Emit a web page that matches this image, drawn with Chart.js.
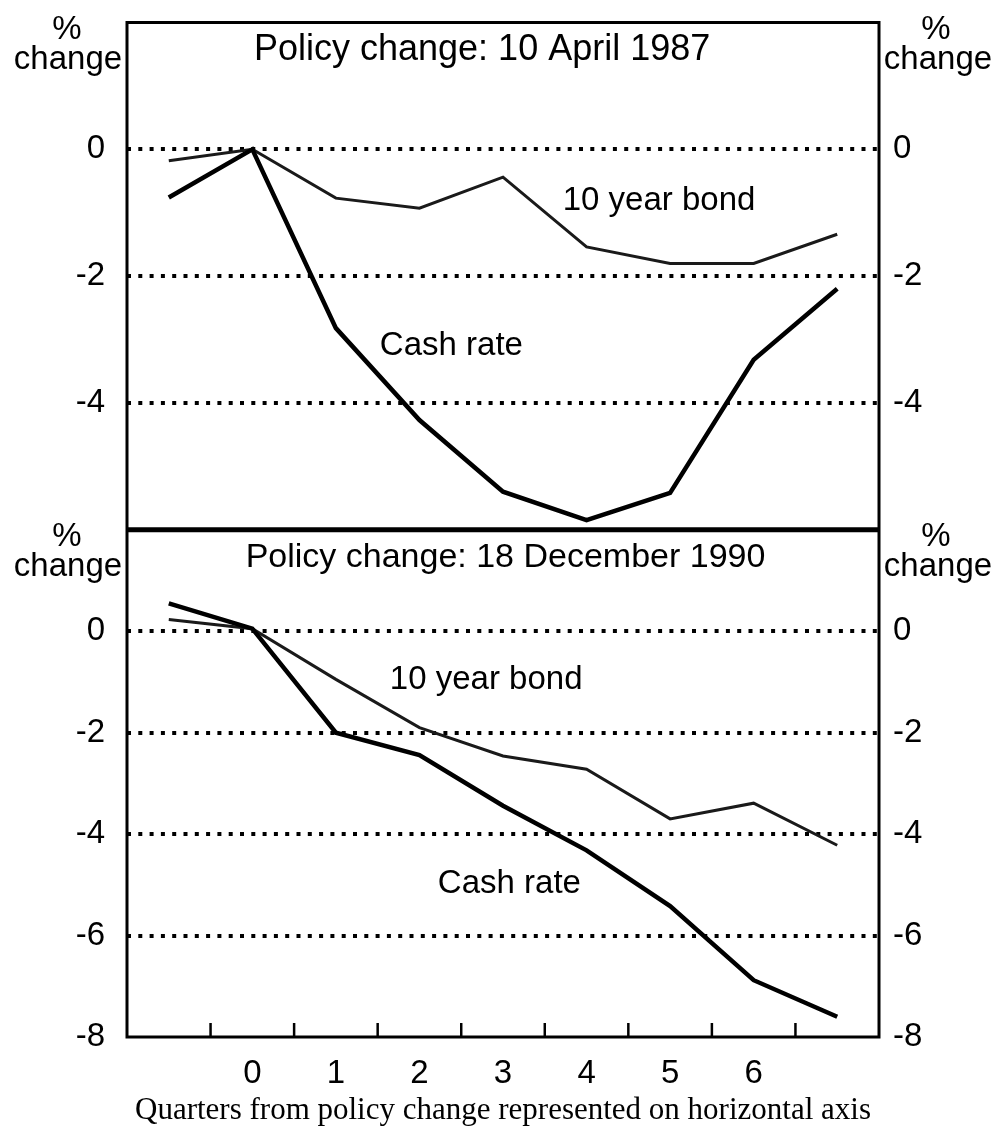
<!DOCTYPE html>
<html>
<head>
<meta charset="utf-8">
<title>Policy change: cash rate and 10 year bond</title>
<script src="https://cdn.jsdelivr.net/npm/chart.js@4.4.1/dist/chart.umd.min.js"></script>
<style>
    html, body { margin: 0; padding: 0; background: #fff; }
    #wrap { width: 998px; height: 1129px; }
</style>
</head>
<body>
<div id="wrap"><canvas id="policyChart" width="998" height="1129"></canvas></div>
<script>
// Quarters from policy change (first and last are not labelled)
const quarters = ['-1', '0', '1', '2', '3', '4', '5', '6', '7'];
const quarterLabels = ['', '0', '1', '2', '3', '4', '5', '6', ''];

// Policy change: 10 April 1987 (% change)
const cash1987 = [-0.76, 0, -2.82, -4.27, -5.4, -5.85, -5.42, -3.32, -2.2];
const bond1987 = [-0.18, 0, -0.77, -0.93, -0.44, -1.54, -1.8, -1.8, -1.34];

// Policy change: 18 December 1990 (% change)
const cash1990 = [0.55, 0.05, -2.0, -2.44, -3.44, -4.32, -5.42, -6.88, -7.6];
const bond1990 = [0.23, 0.05, -0.95, -1.9, -2.46, -2.72, -3.7, -3.39, -4.22];

// Tick labels of each panel
const topTicks = [0, -2, -4];
const bottomTicks = [0, -2, -4, -6, -8];

const SANS = "'Liberation Sans', Arial, Helvetica, sans-serif";
const SERIF = "'Liberation Serif', 'Times New Roman', serif";

// Text written inside the panels (x is on the quarter scale)
const panelTitles = [
    { axis: 'yTop', text: 'Policy change: 10 April 1987', x: 3.75, size: 36 },
    { axis: 'yBottom', text: 'Policy change: 18 December 1990', x: 4.03, size: 34 }
];
const seriesNotes = [
    { axis: 'yTop', text: '10 year bond', x: 4.715, y: -0.96 },
    { axis: 'yTop', text: 'Cash rate', x: 2.526, y: -3.24 },
    { axis: 'yBottom', text: '10 year bond', x: 2.646, y: -1.14 },
    { axis: 'yBottom', text: 'Cash rate', x: 3.22, y: -5.17 }
];

// Build one y axis of a panel
function yAxis(position, min, max, values, withGrid) {
    return {
        type: 'linear',
        position: position,
        stack: position,
        stackWeight: 1,
        min: min,
        max: max,
        afterBuildTicks: scale => {
            scale.ticks = values.map(v => ({ value: v }));
        },
        afterFit: scale => {
            scale.width = position === 'left' ? 127 : 119;
            scale.paddingTop = 0;
            scale.paddingBottom = 0;
        },
        ticks: {
            color: '#000',
            font: { family: SANS, size: 33 },
            padding: position === 'left' ? 22 : 14,
            callback: v => String(v)
        },
        grid: {
            display: withGrid,
            drawTicks: false,
            // the lowest tick sits on the frame, so no dotted line there
            color: c => (c.tick && c.tick.value === min ? 'rgba(0,0,0,0)' : '#000'),
            lineWidth: 4
        },
        border: { display: false, dash: [4, 7.3] }
    };
}

// Frame, inner tick marks and all the labels
const decorations = {
    id: 'decorations',
    afterDraw(chart) {
        const ctx = chart.ctx;
        const area = chart.chartArea;
        const x = chart.scales.x;
        const yTop = chart.scales.yTop;
        const yBottom = chart.scales.yBottom;

        ctx.save();
        ctx.strokeStyle = '#000';
        ctx.lineWidth = 3;
        ctx.strokeRect(area.left, area.top, area.right - area.left, area.bottom - area.top);

        // Divider between panels
        ctx.lineWidth = 5;
        ctx.beginPath();
        ctx.moveTo(area.left, yTop.bottom);
        ctx.lineTo(area.right, yTop.bottom);
        ctx.stroke();

        // Tick marks between quarters
        ctx.lineWidth = 2.5;
        for (let i = 0; i < quarters.length - 1; i++) {
            const px = (x.getPixelForValue(i) + x.getPixelForValue(i + 1)) / 2;
            ctx.beginPath();
            ctx.moveTo(px, area.bottom);
            ctx.lineTo(px, area.bottom - 14);
            ctx.stroke();
        }

        ctx.fillStyle = '#000';

        // Panel titles
        ctx.textAlign = 'center';
        ctx.textBaseline = 'alphabetic';
        panelTitles.forEach(t => {
            const scale = chart.scales[t.axis];
            ctx.font = t.size + 'px ' + SANS;
            ctx.fillText(t.text, x.getPixelForValue(t.x), scale.top + 37.5);
        });

        // "% change" units on both sides
        ctx.font = '33px ' + SANS;
        [yTop, yBottom].forEach(scale => {
            ctx.fillText('%', 67, scale.top + 16);
            ctx.fillText('change', 68, scale.top + 46);
            ctx.fillText('%', 936, scale.top + 16);
            ctx.fillText('change', 938, scale.top + 46);
        });

        // Series names
        ctx.font = '33px ' + SANS;
        ctx.textAlign = 'left';
        seriesNotes.forEach(n => {
            const scale = chart.scales[n.axis];
            ctx.fillText(n.text, x.getPixelForValue(n.x), scale.getPixelForValue(n.y));
        });
        ctx.restore();
    }
};

function lineSet(label, data, axis, width, color) {
    return {
        label: label,
        data: data,
        yAxisID: axis,
        borderColor: color,
        borderWidth: width,
        pointRadius: 0,
        tension: 0,
        fill: false
    };
}

const ctxChart = document.getElementById('policyChart').getContext('2d');
new Chart(ctxChart, {
    type: 'line',
    data: {
        labels: quarters,
        datasets: [
            lineSet('Cash rate', cash1987, 'yTop', 4.5, '#000'),
            lineSet('10 year bond', bond1987, 'yTop', 3, '#1a1a1a'),
            lineSet('Cash rate', cash1990, 'yBottom', 4.5, '#000'),
            lineSet('10 year bond', bond1990, 'yBottom', 3, '#1a1a1a')
        ]
    },
    options: {
        responsive: false,
        animation: false,
        devicePixelRatio: 1,
        layout: { padding: { top: 22.5, left: 0, right: 0, bottom: 0 } },
        plugins: {
            legend: { display: false },
            tooltip: { enabled: false }
        },
        scales: {
            x: {
                type: 'category',
                offset: true,
                afterFit: scale => {
                    scale.height = 92;
                    scale.paddingLeft = 0;
                    scale.paddingRight = 0;
                },
                ticks: {
                    color: '#000',
                    font: { family: SANS, size: 33 },
                    padding: 9,
                    maxRotation: 0,
                    autoSkip: false,
                    callback: (v, i) => quarterLabels[i]
                },
                grid: { display: false },
                border: { display: false },
                title: {
                    display: true,
                    text: 'Quarters from policy change represented on horizontal axis',
                    color: '#000',
                    font: { family: SERIF, size: 31 },
                    padding: { top: 0, bottom: 0 }
                }
            },
            // left stack is laid out last-first, right stack first-first
            yBottom: yAxis('left', -8, 2, bottomTicks, true),
            yTop: yAxis('left', -6, 2, topTicks, true),
            yTopR: yAxis('right', -6, 2, topTicks, false),
            yBottomR: yAxis('right', -8, 2, bottomTicks, false)
        }
    },
    plugins: [decorations]
});
</script>
</body>
</html>
